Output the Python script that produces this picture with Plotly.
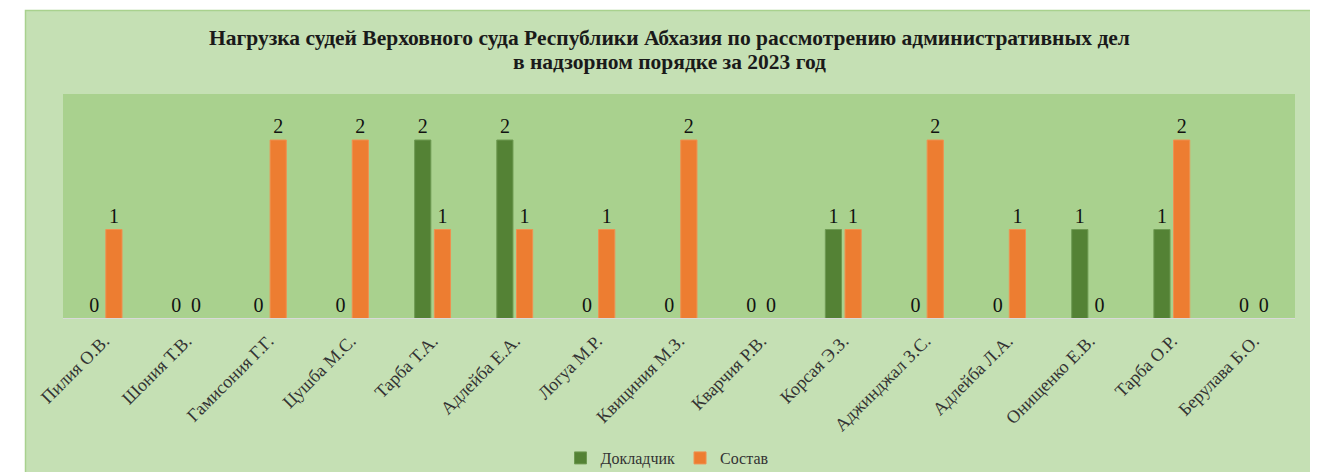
import plotly.graph_objects as go

categories = ["Пилия О.В.", "Шония Т.В.", "Гамисония Г.Г.", "Цушба М.С.", "Тарба Т.А.",
              "Адлейба Е.А.", "Логуа М.Р.", "Квициния М.З.", "Кварчия Р.В.", "Корсая Э.З.",
              "Аджинджал З.С.", "Адлейба Л.А.", "Онищенко Е.В.", "Тарба О.Р.", "Берулава Б.О."]
dokladchik = [0, 0, 0, 0, 2, 2, 0, 0, 0, 1, 0, 0, 1, 1, 0]
sostav = [1, 0, 2, 2, 1, 1, 1, 2, 0, 1, 2, 1, 0, 2, 0]
title_lines = ["Нагрузка судей Верховного суда Республики Абхазия по рассмотрению административных дел",
               "в надзорном порядке за 2023 год"]

OFF = 8  # page body margin
W, H = 1318 - OFF, 472 - OFF
L, R, T, B = 63 - OFF, 1295 - OFF, 94 - OFF, 319 - OFF
pw, ph = R - L, B - T

def px(x):
    return (x - OFF - L) / pw

def py(y):
    return (B - (y - OFF)) / ph

font_serif = "Liberation Serif, Times New Roman, serif"

fig = go.Figure()
fig.add_trace(go.Bar(name="Докладчик", x=categories, y=dokladchik, marker_color="#548235",
                     marker_line=dict(color="#6E9A52", width=1),
                     text=dokladchik, textposition="outside", cliponaxis=False,
                     textfont=dict(size=20, color="#111111", family=font_serif)))
fig.add_trace(go.Bar(name="Состав", x=categories, y=sostav, marker_color="#ED7D31",
                     marker_line=dict(color="#F09050", width=1),
                     text=sostav, textposition="outside", cliponaxis=False,
                     textfont=dict(size=20, color="#111111", family=font_serif)))

shapes = [
    dict(type="rect", xref="paper", yref="paper", x0=px(0), x1=px(25), y0=py(600), y1=py(0),
         fillcolor="white", line_width=0, layer="below"),
    dict(type="rect", xref="paper", yref="paper", x0=px(0), x1=px(1400), y0=py(10), y1=py(0),
         fillcolor="white", line_width=0, layer="below"),
    dict(type="rect", xref="paper", yref="paper", x0=px(1314), x1=px(1400), y0=py(600), y1=py(0),
         fillcolor="white", line_width=0, layer="below"),
    dict(type="rect", xref="paper", yref="paper", x0=px(25.5), x1=px(1313.5), y0=py(490), y1=py(10.5),
         fillcolor="rgba(0,0,0,0)", line=dict(color="#A9D18E", width=1.5), layer="above"),
    dict(type="line", xref="paper", yref="y", x0=0, x1=1, y0=0, y1=0,
         line=dict(color="#D9D9D9", width=2), layer="above"),
]

annotations = [
    dict(text="<b>" + title_lines[0] + "</b>", xref="paper", yref="paper", x=px(669), y=py(38),
         xanchor="center", yanchor="middle", showarrow=False,
         font=dict(size=21.5, family=font_serif, color="#1a1a1a")),
    dict(text="<b>" + title_lines[1] + "</b>", xref="paper", yref="paper", x=px(669), y=py(62),
         xanchor="center", yanchor="middle", showarrow=False,
         font=dict(size=21.5, family=font_serif, color="#1a1a1a")),
]

fig.update_layout(
    width=W, height=H,
    margin=dict(l=L, r=W - R, t=T, b=H - B, autoexpand=False),
    paper_bgcolor="#C5E0B4",
    plot_bgcolor="#A9D18E",
    barmode="group",
    bargap=0.52,
    bargroupgap=0.18,
    showlegend=True,
    legend=dict(orientation="h", x=px(667), xanchor="center", y=py(458), yanchor="middle",
                font=dict(size=16, family=font_serif, color="#333333"),
                bgcolor="rgba(0,0,0,0)", itemwidth=30, traceorder="normal"),
    annotations=annotations,
    shapes=shapes,
    xaxis=dict(tickangle=-45, tickfont=dict(size=18, family=font_serif, color="#333333"),
               ticklabelstandoff=7,
               showgrid=False, showline=False, ticks="", zeroline=False, automargin=False),
    yaxis=dict(range=[0, 2.514], visible=False, showgrid=False, zeroline=False, automargin=False),
)

fig.write_html("out.html")
